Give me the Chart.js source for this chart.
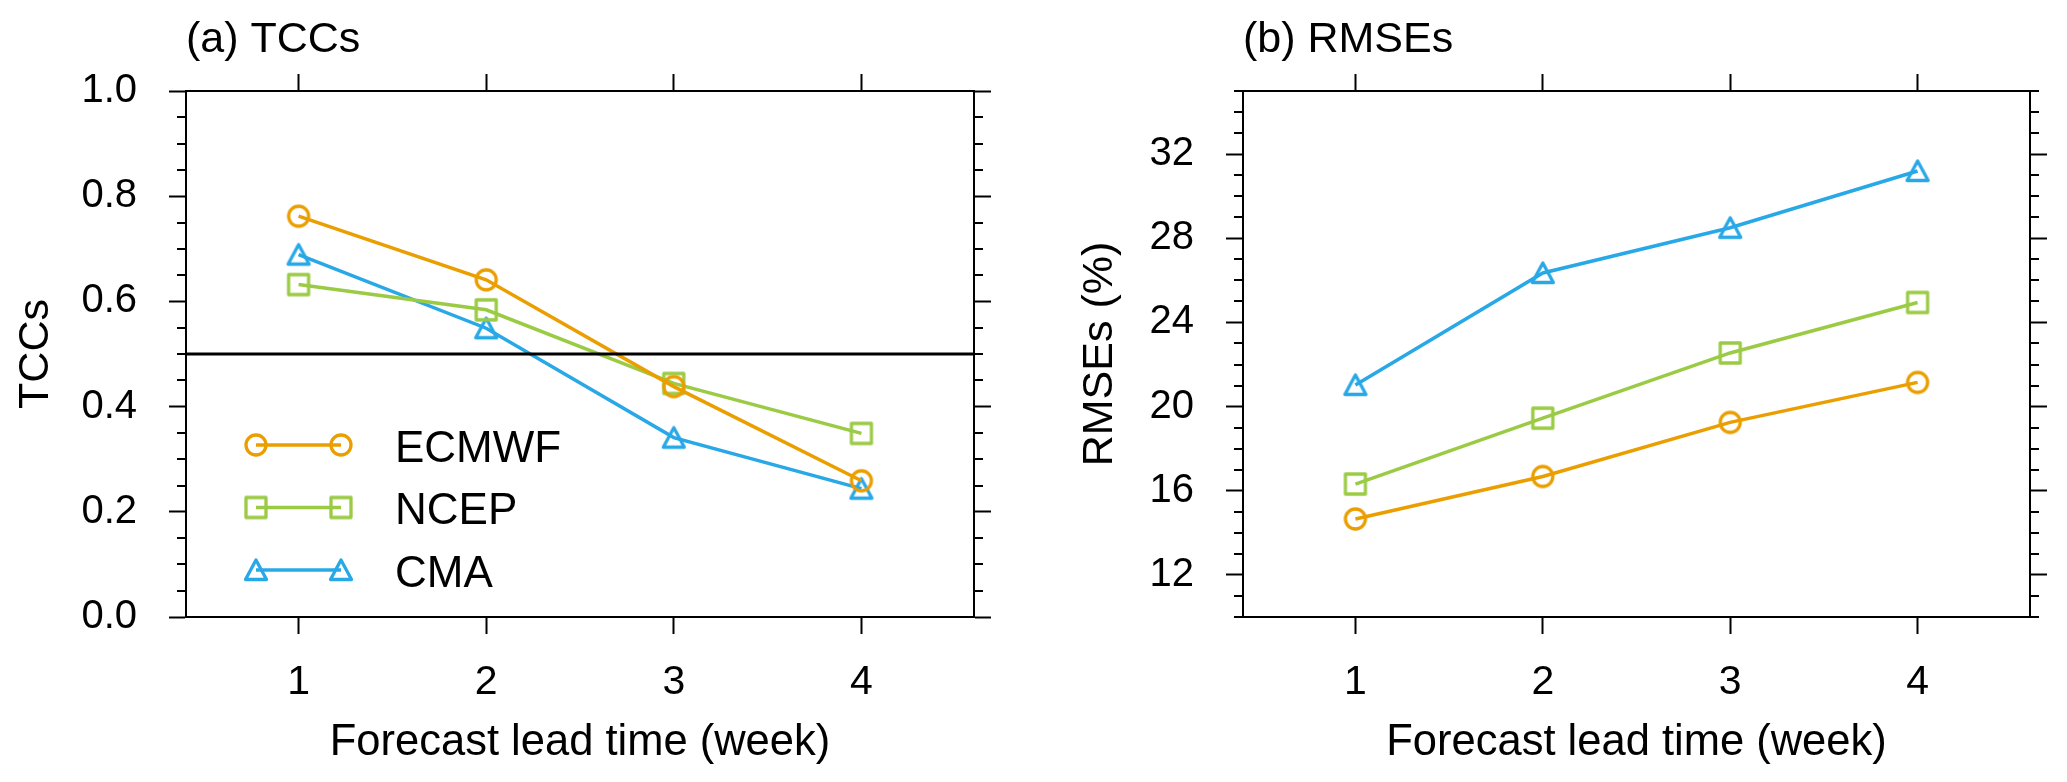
<!DOCTYPE html>
<html>
<head>
<meta charset="utf-8">
<script src="https://cdn.jsdelivr.net/npm/chart.js@4.4.1/dist/chart.umd.min.js"></script>
<style>
  html, body { margin: 0; padding: 0; background: #fff; }
  #wrap { position: relative; width: 2067px; height: 782px; }
  canvas { position: absolute; top: 0; }
</style>
</head>
<body>
<div id="wrap">
  <canvas id="tcc" width="1033" height="782" style="left:0"></canvas>
  <canvas id="rmse" width="1034" height="782" style="left:1033px"></canvas>
</div>
<script>
// semanas de pronostico (eje x)
const weeks = [1, 2, 3, 4];
const models = ['ECMWF', 'NCEP', 'CMA'];

// (a) TCCs
const tccEcmwf = [0.762, 0.641, 0.438, 0.259];
const tccNcep  = [0.632, 0.584, 0.444, 0.349];
const tccCma   = [0.689, 0.549, 0.341, 0.244];
const tccTicks = [0.0, 0.2, 0.4, 0.6, 0.8, 1.0];
const tccRef = 0.5;

// (b) RMSEs (%)
const rmseEcmwf = [14.66, 16.68, 19.25, 21.15];
const rmseNcep  = [16.32, 19.45, 22.55, 24.95];
const rmseCma   = [21.03, 26.35, 28.50, 31.20];
const rmseTicks = [12, 16, 20, 24, 28, 32];

const colors = ['#EA9E00', '#9BCB45', '#28A8E6'];
const shapes = ['circle', 'square', 'triangle'];

Chart.defaults.font.family = "'Liberation Sans', Arial, sans-serif";
Chart.defaults.color = '#000';

// marcador hueco dibujado en un canvas pequeño
function markerCanvas(shape, color) {
  const c = document.createElement('canvas');
  c.width = 32; c.height = 32;
  const g = c.getContext('2d');
  g.strokeStyle = color;
  g.lineWidth = 3.3;
  g.lineJoin = 'round';
  g.beginPath();
  if (shape === 'circle') {
    g.arc(16, 16, 10, 0, Math.PI * 2);
  } else if (shape === 'square') {
    g.rect(6, 6, 20, 20);
  } else {
    g.moveTo(16, 6); g.lineTo(26.5, 25.5); g.lineTo(5.5, 25.5); g.closePath();
  }
  g.stroke();
  return c;
}
const markers = shapes.map((s, i) => markerCanvas(s, colors[i]));

// ticks menores hacia fuera en ambos lados del eje y
const minorTicks = {
  id: 'minorTicks',
  afterDraw(chart, args, opts) {
    const {ctx, chartArea: a} = chart;
    const y = chart.scales.y;
    ctx.save();
    ctx.strokeStyle = '#000';
    ctx.lineWidth = 2;
    const n = Math.round((opts.max - opts.min) / opts.step);
    for (let k = 0; k <= n; k++) {
      const v = opts.min + k * opts.step;
      if (opts.majors.some(m => Math.abs(m - v) < 1e-6)) continue;
      const py = Math.round(y.getPixelForValue(v));
      ctx.beginPath();
      ctx.moveTo(a.left - 9, py); ctx.lineTo(a.left, py);
      ctx.moveTo(a.right, py); ctx.lineTo(a.right + 9, py);
      ctx.stroke();
    }
    ctx.restore();
  }
};

// linea horizontal de referencia
const refLine = {
  id: 'refLine',
  afterDatasetsDraw(chart, args, opts) {
    if (opts.value === undefined) return;
    const {ctx, chartArea: a} = chart;
    const py = chart.scales.y.getPixelForValue(opts.value);
    ctx.save();
    ctx.strokeStyle = '#000';
    ctx.lineWidth = 3;
    ctx.beginPath();
    ctx.moveTo(a.left, py); ctx.lineTo(a.right, py);
    ctx.stroke();
    ctx.restore();
  }
};

// leyenda estilo NCL: marcador - linea - marcador + texto
const lineLegend = {
  id: 'lineLegend',
  afterDraw(chart, args, opts) {
    if (!opts.show) return;
    const {ctx} = chart;
    ctx.save();
    chart.data.datasets.forEach((ds, i) => {
      const y = opts.y0 + i * opts.dy;
      ctx.strokeStyle = ds.borderColor;
      ctx.lineWidth = 3.3;
      ctx.beginPath();
      ctx.moveTo(opts.x0, y); ctx.lineTo(opts.x1, y);
      ctx.stroke();
      ctx.drawImage(ds.pointStyle, opts.x0 - 16, y - 16);
      ctx.drawImage(ds.pointStyle, opts.x1 - 16, y - 16);
      ctx.fillStyle = '#000';
      ctx.font = "44px 'Liberation Sans', Arial, sans-serif";
      ctx.textBaseline = 'alphabetic';
      ctx.fillText(ds.label, opts.tx, y + 16.5);
    });
    ctx.restore();
  }
};

function makeDatasets(series) {
  return series.map((vals, i) => ({
    label: models[i],
    data: weeks.map((w, j) => ({x: w, y: vals[j]})),
    borderColor: colors[i],
    backgroundColor: 'transparent',
    borderWidth: 3.5,
    pointStyle: markers[i],
    pointRadius: 12,
    tension: 0,
    fill: false
  }));
}

function makeChart(id, o) {
  const axisGrid = {drawOnChartArea: false, drawTicks: true, tickLength: 17, tickWidth: 2, tickColor: '#000'};
  const axisBorder = {display: true, color: '#000', width: 2};
  const xTicks = s => { s.ticks = weeks.map(v => ({value: v})); };
  const yTicks = s => { s.ticks = o.majors.map(v => ({value: v})); };
  return new Chart(document.getElementById(id), {
    type: 'line',
    data: {datasets: makeDatasets(o.series)},
    options: {
      responsive: false,
      animation: false,
      events: [],
      layout: {padding: 0},
      plugins: {
        legend: {display: false},
        tooltip: {enabled: false},
        title: {display: false},
        minorTicks: {min: o.min, max: o.max, step: o.minorStep, majors: o.majors},
        refLine: {value: o.ref},
        lineLegend: {show: o.legend, x0: 256, x1: 341, tx: 395, y0: 445, dy: 62.5}
      },
      scales: {
        x: {
          type: 'linear', position: 'bottom', min: 0.4, max: 4.6,
          afterBuildTicks: xTicks,
          afterFit: s => { s.height = 165; },
          grid: axisGrid, border: axisBorder,
          ticks: {font: {size: 41}, padding: 24, color: '#000'},
          title: {display: true, text: 'Forecast lead time (week)', font: {size: 43.5}, padding: {bottom: 13}, color: '#000'}
        },
        xTop: {
          type: 'linear', position: 'top', min: 0.4, max: 4.6,
          afterBuildTicks: xTicks,
          afterFit: s => { s.height = 91; },
          grid: axisGrid, border: axisBorder,
          ticks: {display: false},
          title: {display: true, text: o.panel, align: 'start', font: {size: 43}, padding: {top: 14}, color: '#000'}
        },
        y: {
          type: 'linear', position: 'left', min: o.min, max: o.max,
          afterBuildTicks: yTicks,
          afterFit: s => { s.width = o.leftW; },
          grid: axisGrid, border: axisBorder,
          ticks: {font: {size: 40}, padding: 32, color: '#000', callback: o.fmt},
          title: {display: true, text: o.yTitle, font: {size: 43}, padding: {top: o.yTitlePad}, color: '#000'}
        },
        yR: {
          type: 'linear', position: 'right', min: o.min, max: o.max,
          afterBuildTicks: yTicks,
          afterFit: s => { s.width = o.rightW; },
          grid: axisGrid, border: axisBorder,
          ticks: {display: false}
        }
      }
    },
    plugins: [minorTicks, refLine, lineLegend]
  });
}

makeChart('tcc', {
  series: [tccEcmwf, tccNcep, tccCma],
  min: 0, max: 1, majors: tccTicks, minorStep: 0.05,
  fmt: v => v.toFixed(1),
  panel: '(a) TCCs', yTitle: 'TCCs', yTitlePad: 10,
  leftW: 186, rightW: 59, ref: tccRef, legend: true
});

makeChart('rmse', {
  series: [rmseEcmwf, rmseNcep, rmseCma],
  min: 10, max: 35, majors: rmseTicks, minorStep: 1,
  fmt: v => String(v),
  panel: '(b) RMSEs', yTitle: 'RMSEs (%)', yTitlePad: 41,
  leftW: 210, rightW: 37, ref: undefined, legend: false
});
</script>
</body>
</html>
